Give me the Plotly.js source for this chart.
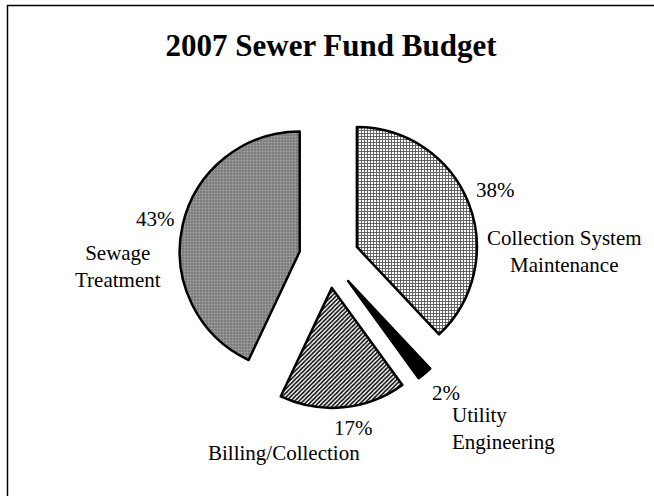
<!DOCTYPE html>
<html>
<head>
<meta charset="utf-8">
<script src="https://cdn.plot.ly/plotly-3.0.1.min.js"></script>
<style>html,body{margin:0;padding:0;background:#fff;}#chart{width:654px;height:496px;}</style>
</head>
<body>
<div id="chart"></div>
<script>
// ---- data ----
const categories = ["Collection System Maintenance", "Utility Engineering", "Billing/Collection", "Sewage Treatment"];
const categoryLines = ["Collection System<br>Maintenance", "Utility<br>Engineering", "Billing/Collection", "Sewage<br>Treatment"];
const values = [38, 2, 17, 43];
const chartTitle = "2007 Sewer Fund Budget";

// ---- styles ----
const FONT = "Liberation Serif, Times New Roman, serif";
const W = 654, H = 496;
const fills = ["#ffffff", "#000000", "#ffffff", "#7a7a7a"];
const patterns = {
  shape: ["+", "", "/", "."],
  fgcolor: ["#555555", "#000000", "#000000", "#a8a8a8"],
  bgcolor: ["#ffffff", "#000000", "#ffffff", "#7a7a7a"],
  size: [3, 4, 3, 3],
  solidity: [0.5, 0.5, 0.5, 0.35]
};
// label placement (pixels) and alignment per slice
const pctPos = [[495, 190], [446, 393], [353, 428], [155, 219]];
const namePos = [[564, 251], [450, 428], [284, 453], [118, 266]];
const nameAnchor = ["center", "left", "center", "center"];

const total = values.reduce((a, b) => a + b, 0);
const px = x => x / W;
const py = y => 1 - y / H;

const annotations = [];
values.forEach((v, i) => {
  annotations.push({
    text: Math.round(v / total * 100) + "%",
    xref: "paper", yref: "paper", x: px(pctPos[i][0]), y: py(pctPos[i][1]),
    xanchor: "center", yanchor: "middle", showarrow: false,
    font: {family: FONT, size: 21, color: "#000"}
  });
  annotations.push({
    text: categoryLines[i],
    xref: "paper", yref: "paper", x: px(namePos[i][0]), y: py(namePos[i][1]),
    xanchor: nameAnchor[i], yanchor: "middle", align: nameAnchor[i], showarrow: false,
    font: {family: FONT, size: 21, color: "#000"}
  });
});

const trace = {
  type: "pie",
  labels: categories,
  values: values,
  sort: false,
  direction: "clockwise",
  rotation: 0,
  pull: values.map(() => 0.25),
  textinfo: "none",
  hoverinfo: "none",
  domain: {x: [0.2737, 0.7324], y: [0.1774, 0.7823]},
  marker: {
    colors: fills,
    line: {color: "#000", width: 2.5},
    pattern: patterns
  }
};

const layout = {
  width: W, height: H,
  margin: {l: 0, r: 0, t: 0, b: 0},
  paper_bgcolor: "#fff",
  showlegend: false,
  title: {
    text: "<b>" + chartTitle + "</b>",
    font: {family: FONT, size: 31, color: "#000"},
    x: 331 / W, xanchor: "center", xref: "paper",
    y: py(45), yanchor: "middle", yref: "container"
  },
  annotations: annotations,
  shapes: [{
    type: "rect", xref: "paper", yref: "paper",
    x0: 7.5 / W, x1: 1.02, y0: -0.02, y1: py(5.5),
    line: {color: "#000", width: 1.5}, fillcolor: "rgba(0,0,0,0)"
  }]
};

Plotly.newPlot("chart", [trace], layout, {staticPlot: true, displayModeBar: false});
</script>
</body>
</html>
